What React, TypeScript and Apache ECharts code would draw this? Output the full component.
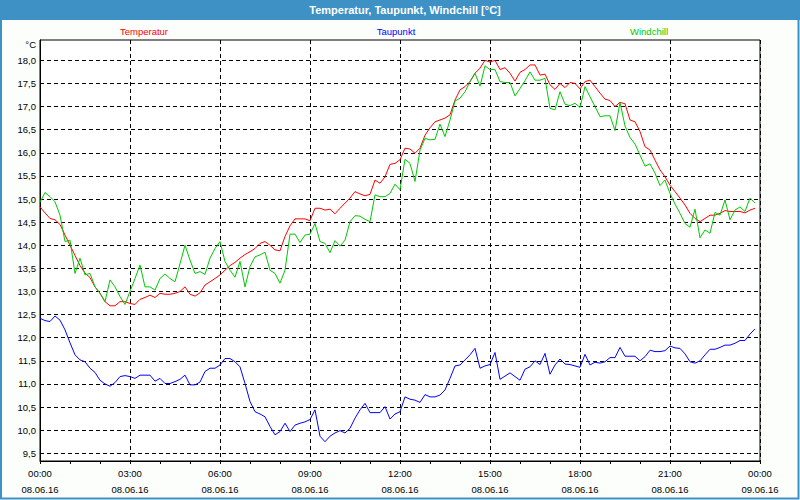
import React, { useEffect, useRef } from "react";
import * as echarts from "echarts";

const TITLE = "Temperatur, Taupunkt, Windchill [°C]";
const SERIES_NAMES = ["Temperatur", "Taupunkt", "Windchill"];
const SERIES_COLORS = ["#ff0000", "#0000ff", "#00c800"];
const UNIT_LABEL = "°C";
const STEP_MINUTES = 10;

// 10-minute readings, 08.06.16 00:00 .. 23:50
const temperatur = [
  14.83, 14.7, 14.58, 14.55, 14.45, 14.22, 14.0, 13.78, 13.56, 13.4, 13.3, 13.1,
  12.96, 12.78, 12.69, 12.69, 12.78, 12.78, 12.74, 12.72, 12.83, 12.87, 12.92, 12.87,
  12.96, 12.94, 12.94, 12.96, 13.0, 13.1, 12.94, 12.9, 12.97, 13.14, 13.21, 13.28,
  13.36, 13.46, 13.56, 13.63, 13.72, 13.8, 13.86, 13.93, 14.04, 14.08, 14.0, 13.9,
  13.88, 14.19, 14.42, 14.57, 14.57, 14.57, 14.53, 14.8, 14.8, 14.76, 14.78, 14.68,
  14.8, 14.91, 15.02, 15.16, 15.11, 15.07, 15.1, 15.41, 15.34, 15.48, 15.75, 15.77,
  15.85, 16.1, 16.08, 15.99, 16.1, 16.38, 16.54, 16.67, 16.71, 16.75, 16.82, 17.14,
  17.36, 17.43, 17.54, 17.72, 17.83, 18.0, 17.96, 18.0, 17.8, 17.84, 17.72, 17.55,
  17.74, 17.8, 17.9, 17.9, 17.68, 17.7, 17.47, 17.37, 17.5, 17.41, 17.52, 17.5,
  17.38, 17.54, 17.57, 17.43, 17.29, 17.16, 17.13, 17.0, 17.09, 17.06, 16.71, 16.67,
  16.46, 16.13, 16.06, 15.84, 15.63, 15.48, 15.3, 15.16, 15.02, 14.87, 14.69, 14.58,
  14.51, 14.58, 14.65, 14.65, 14.69, 14.75, 14.73, 14.73, 14.73, 14.7, 14.76, 14.8,
];

const taupunkt = [
  12.42, 12.37, 12.35, 12.47, 12.38, 12.17, 11.89, 11.63, 11.52, 11.48, 11.34, 11.25,
  11.08, 11.0, 10.95, 11.03, 11.16, 11.18, 11.16, 11.12, 11.19, 11.19, 11.19, 11.06,
  11.12, 11.01, 11.01, 11.05, 11.1, 11.19, 10.98, 10.98, 11.04, 11.27, 11.34, 11.34,
  11.41, 11.55, 11.55, 11.48, 11.37, 11.01, 10.62, 10.4, 10.35, 10.29, 10.08, 9.9,
  9.97, 10.15, 9.97, 10.11, 10.15, 10.18, 10.23, 10.44, 9.87, 9.75, 9.87, 9.94,
  9.99, 9.94, 10.04, 10.26, 10.44, 10.58, 10.38, 10.38, 10.38, 10.51, 10.24, 10.35,
  10.4, 10.72, 10.67, 10.65, 10.6, 10.77, 10.72, 10.72, 10.76, 10.87, 11.12, 11.39,
  11.41, 11.52, 11.63, 11.77, 11.34, 11.39, 11.42, 11.68, 11.1, 11.17, 11.24, 11.16,
  11.08, 11.32, 11.37, 11.5, 11.42, 11.66, 11.21, 11.41, 11.54, 11.43, 11.42, 11.39,
  11.36, 11.64, 11.41, 11.47, 11.45, 11.48, 11.57, 11.57, 11.79, 11.6, 11.6, 11.6,
  11.5, 11.59, 11.73, 11.7, 11.7, 11.72, 11.82, 11.78, 11.77, 11.65, 11.48, 11.45,
  11.5, 11.63, 11.75, 11.75, 11.79, 11.84, 11.84, 11.88, 11.94, 11.94, 12.08, 12.19,
];

const windchill = [
  14.93, 15.14, 15.05, 14.94, 14.65, 14.08, 14.11, 13.39, 13.72, 13.36, 13.39, 13.1,
  12.96, 12.78, 13.25, 13.1, 12.89, 12.72, 13.0, 13.28, 13.57, 13.1, 13.1, 13.03,
  13.28, 13.38, 13.28, 13.21, 13.6, 14.0, 13.68, 13.39, 13.43, 13.37, 13.72, 13.93,
  14.08, 13.65, 13.46, 13.31, 13.65, 13.1, 13.54, 13.75, 13.79, 13.85, 13.46, 13.39,
  13.18, 13.46, 14.24, 14.24, 14.06, 14.22, 14.24, 14.47, 14.08, 14.04, 13.84, 14.1,
  13.98, 14.11, 14.51, 14.64, 14.63, 14.56, 14.51, 15.09, 15.05, 15.05, 15.12, 15.32,
  15.2, 15.86, 15.77, 15.38, 16.06, 16.31, 16.28, 16.29, 16.62, 16.35, 16.71, 17.12,
  17.18, 17.32, 17.54, 17.72, 17.44, 17.88, 17.8, 17.8, 17.54, 17.52, 17.52, 17.23,
  17.39, 17.56, 17.75, 17.57, 17.57, 17.61, 16.96, 16.93, 17.32, 17.05, 17.02, 17.07,
  16.98, 17.43, 17.21, 17.0, 16.78, 16.8, 16.8, 16.48, 17.09, 16.58, 16.33, 16.19,
  15.95, 15.71, 15.76, 15.56, 15.29, 15.41, 15.12, 14.89, 14.69, 14.47, 14.39, 14.78,
  14.16, 14.33, 14.26, 14.71, 14.65, 14.98, 14.55, 14.76, 14.83, 14.73, 15.02, 14.91,
];

const timeLabels = ["00:00", "03:00", "06:00", "09:00", "12:00", "15:00", "18:00", "21:00", "00:00"];
const dateLabels = ["08.06.16", "08.06.16", "08.06.16", "08.06.16", "08.06.16", "08.06.16", "08.06.16", "08.06.16", "09.06.16"];

const Y_MIN = 9.5;
const Y_MAX = 18.0;
const Y_STEP = 0.5;
const X_MAX_HOURS = 24;
const X_LABEL_STEP = 3;

const FONT = "'Liberation Sans', Arial, sans-serif";
const SMALL = 9.5;

export default function App() {
  const ref = useRef<HTMLDivElement>(null);

  useEffect(() => {
    if (!ref.current) return;
    const chart = echarts.init(ref.current, null, { renderer: "svg" });

    const plotLeft = 40;
    const plotWidth = 720;
    const plotTop = 40;
    const plotBottom = 461;
    const yTopTick = 60.3;
    const yBottomTick = 453.3;
    const pxPerUnit = (yBottomTick - yTopTick) / (Y_MAX - Y_MIN);
    const fullMax = Y_MAX + (yTopTick - plotTop) / pxPerUnit;
    const fullMin = Y_MIN - (plotBottom - yBottomTick) / pxPerUnit;

    const toPairs = (arr: number[]) => arr.map((v, i) => [(i * STEP_MINUTES) / 60, v]);
    const seriesData = [temperatur, taupunkt, windchill];

    const dashed = { color: "#000", width: 1, type: [4, 3] as any };

    const option: any = {
      animation: false,
      backgroundColor: "#fcfefc",
      grid: [
        {
          left: plotLeft,
          top: plotTop,
          width: plotWidth,
          height: plotBottom - plotTop,
          show: true,
          backgroundColor: "#ffffff",
          borderColor: "#000",
          borderWidth: 1,
        },
        {
          left: plotLeft,
          top: yTopTick,
          width: plotWidth,
          height: yBottomTick - yTopTick,
          show: false,
        },
      ],
      xAxis: [
        {
          type: "value",
          gridIndex: 0,
          min: 0,
          max: X_MAX_HOURS,
          interval: X_LABEL_STEP,
          axisLine: { show: true, lineStyle: { color: "#000", width: 1 } },
          axisTick: { show: true, length: 3, lineStyle: { color: "#000" } },
          minorTick: { show: true, splitNumber: 3, length: 3, lineStyle: { color: "#000" } },
          splitLine: { show: true, lineStyle: dashed },
          axisLabel: {
            margin: 4,
            color: "#000",
            fontFamily: FONT,
            fontSize: SMALL,
            lineHeight: 16,
            formatter: (val: number) => {
              const idx = Math.round(val / X_LABEL_STEP);
              return `${timeLabels[idx]}\n${dateLabels[idx]}`;
            },
          },
        },
        {
          type: "value",
          gridIndex: 1,
          min: 0,
          max: X_MAX_HOURS,
          show: false,
        },
      ],
      yAxis: [
        {
          type: "value",
          gridIndex: 0,
          min: fullMin,
          max: fullMax,
          axisLine: { show: true, lineStyle: { color: "#000", width: 1 } },
          axisTick: { show: false },
          axisLabel: { show: false },
          splitLine: { show: false },
        },
        {
          type: "value",
          gridIndex: 1,
          min: Y_MIN,
          max: Y_MAX,
          interval: Y_STEP,
          axisLine: { show: false },
          axisTick: { show: false },
          splitLine: { show: true, lineStyle: dashed },
          axisLabel: {
            margin: 4,
            color: "#000",
            fontFamily: FONT,
            fontSize: SMALL,
            formatter: (v: number) => v.toFixed(1).replace(".", ","),
          },
        },
      ],
      series: SERIES_NAMES.map((name, k) => ({
        name,
        type: "line",
        xAxisIndex: 0,
        yAxisIndex: 0,
        data: toPairs(seriesData[k]),
        showSymbol: false,
        symbol: "none",
        lineStyle: { color: SERIES_COLORS[k], width: 1 },
        itemStyle: { color: SERIES_COLORS[k] },
        z: 3 + k,
      })),
      graphic: [
        {
          type: "rect",
          shape: { x: 0, y: 0, width: 800, height: 20 },
          style: { fill: "#3d91c5" },
          silent: true,
        },
        {
          type: "text",
          x: 405,
          y: 10,
          style: {
            text: TITLE,
            fill: "#ffffff",
            font: `bold 11px ${FONT}`,
            textAlign: "center",
            textVerticalAlign: "middle",
          },
        },
        {
          type: "rect",
          shape: { x: 1, y: 1, width: 797.5, height: 497.5 },
          style: { fill: "none", stroke: "#3d91c5", lineWidth: 2 },
          silent: true,
        },
        {
          type: "text",
          x: 36,
          y: 44,
          style: {
            text: UNIT_LABEL,
            fill: "#000",
            font: `${SMALL}px ${FONT}`,
            textAlign: "right",
            textVerticalAlign: "middle",
          },
        },
        ...SERIES_NAMES.map((name, k) => ({
          type: "text",
          x: [144, 396, 649][k],
          y: 31,
          style: {
            text: name,
            fill: SERIES_COLORS[k],
            font: `${SMALL}px ${FONT}`,
            textAlign: "center",
            textVerticalAlign: "middle",
          },
        })),
      ],
    };

    chart.setOption(option);
    return () => chart.dispose();
  }, []);

  return (
    <div
      ref={ref}
      style={{ position: "fixed", left: 0, top: 0, width: 800, height: 500 }}
    />
  );
}
